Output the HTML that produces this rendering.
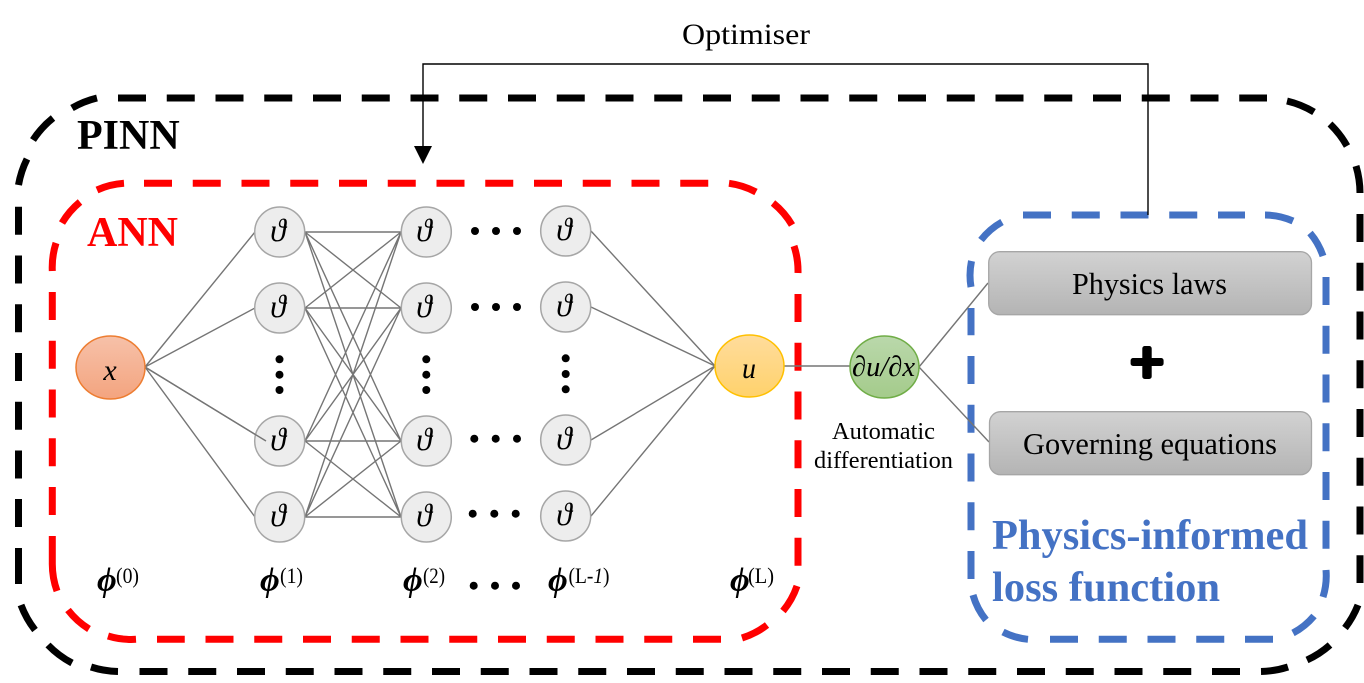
<!DOCTYPE html>
<html><head><meta charset="utf-8"><style>
html,body{margin:0;padding:0;background:#fff;width:1364px;height:683px;overflow:hidden}
svg{display:block}
text{font-family:"Liberation Serif","DejaVu Serif",serif;fill:#000}
</style></head><body>
<svg width="1364" height="683" viewBox="0 0 1364 683" xmlns="http://www.w3.org/2000/svg">
<defs>
<linearGradient id="gx" x1="0" y1="0" x2="0" y2="1"><stop offset="0" stop-color="#F6C1A9"/><stop offset="1" stop-color="#F4A47F"/></linearGradient>
<linearGradient id="gu" x1="0" y1="0" x2="0" y2="1"><stop offset="0" stop-color="#FFDC9C"/><stop offset="1" stop-color="#FFD26C"/></linearGradient>
<linearGradient id="gg" x1="0" y1="0" x2="0" y2="1"><stop offset="0" stop-color="#BAD8AB"/><stop offset="1" stop-color="#A4CB8B"/></linearGradient>
<linearGradient id="gb" x1="0" y1="0" x2="0" y2="1"><stop offset="0" stop-color="#D2D2D2"/><stop offset="1" stop-color="#B4B4B4"/></linearGradient>
</defs>

<!-- black dashed -->
<g fill="none" stroke="#000" stroke-width="7">
<path d="M118 98H1267M1360 214V583M1240 671.5H139M18.5 499V527" stroke-dasharray="28 20.75"/>
<path d="M18.5 206.7V499" stroke-dasharray="28 20.75"/>
<path d="M18.5 548V584"/>
<path d="M1287 101A95 95 0 0 1 1314 112M1330 124A95 95 0 0 1 1347 146M1356 166A95 95 0 0 1 1360 193"/>
<path d="M1358 605A95 95 0 0 1 1345 628M1330 645A95 95 0 0 1 1307 660M1288 667A95 95 0 0 1 1261 671.5"/>
<path d="M118 671.5A95 95 0 0 1 91 667M72 663A95 95 0 0 1 48 645M35 630A95 95 0 0 1 21 605"/>
<path d="M18.5 185A95 95 0 0 1 27 159M33 140A95 95 0 0 1 53 118M72 108A95 95 0 0 1 97 98"/>
</g>

<!-- red dashed -->
<g fill="none" stroke="#f00" stroke-width="7">
<path d="M144 183.3H709M798 294V566M721 639.3H157M52.3 292V535" stroke-dasharray="28 20.75"/>
<path d="M52.3 536V563"/>
<path d="M729 183.3A80 80 0 0 1 756 192M773 203A80 80 0 0 1 792 225M794 246A80 80 0 0 1 798 273"/>
<path d="M797 586A80 80 0 0 1 783 611M767 625A80 80 0 0 1 742 638"/>
<path d="M136 639.3A80 80 0 0 1 108 636M89 629A80 80 0 0 1 68 610M57 591A80 80 0 0 1 52.3 563"/>
<path d="M52.3 271A80 80 0 0 1 56 243M62 223A80 80 0 0 1 80 202M97 190A80 80 0 0 1 124 183.3"/>
</g>

<!-- blue dashed -->
<g fill="none" stroke="#4472C4" stroke-width="7">
<path d="M1023 215H1245M1326 277V549M1273 639.3H1050M971 579V308" stroke-dasharray="28 20.75"/>
<path d="M1265 215A70 70 0 0 1 1293 221M1310 233A70 70 0 0 1 1323 256"/>
<path d="M1326 570A70 70 0 0 1 1323 597M1314 616A70 70 0 0 1 1293 633"/>
<path d="M1028 639.3A70 70 0 0 1 1003 632M986 620A70 70 0 0 1 973 595"/>
<path d="M971 287A70 70 0 0 1 971.5 261M981 240A70 70 0 0 1 1002 222"/>
</g>

<!-- optimiser connector -->
<path d="M423 150V64H1148V215" fill="none" stroke="#000" stroke-width="1.4"/>
<polygon points="414,146 432,146 423,164" fill="#000"/>

<!-- connections -->
<path fill="none" stroke="#757575" stroke-width="1.4" d="
M145 367L255 232M145 367L255 308M145 367L266 441M145 367L255 517
M305 232L401 232M305 232L401 308M305 232L401 441M305 232L401 517
M305 308L401 232M305 308L401 308M305 308L401 441M305 308L401 517
M305 441L401 232M305 441L401 308M305 441L401 441M305 441L401 517
M305 517L401 232M305 517L401 308M305 517L401 441M305 517L401 517
M591 231L715 366M591 307L715 366M591 440L715 366M591 516L715 366
M784 366H850M919 367L988 283M919 367L989 442"/>

<!-- nodes -->
<g fill="#EDEDED" stroke="#A6A6A6" stroke-width="1.5">
<circle cx="279.7" cy="232" r="25"/><circle cx="279.7" cy="308" r="25"/><circle cx="279.7" cy="441" r="25"/><circle cx="279.7" cy="517" r="25"/>
<circle cx="426.3" cy="232" r="25"/><circle cx="426.3" cy="308" r="25"/><circle cx="426.3" cy="441" r="25"/><circle cx="426.3" cy="517" r="25"/>
<circle cx="565.7" cy="231" r="25"/><circle cx="565.7" cy="307" r="25"/><circle cx="565.7" cy="440" r="25"/><circle cx="565.7" cy="516" r="25"/>
</g>
<path d="M145 367L266 441" fill="none" stroke="#757575" stroke-width="1.4"/>
<g font-size="32" font-style="italic" text-anchor="middle">
<text x="278" y="241">ϑ</text><text x="278" y="317">ϑ</text><text x="278" y="450">ϑ</text><text x="278" y="526">ϑ</text>
<text x="424" y="241">ϑ</text><text x="424" y="317">ϑ</text><text x="424" y="450">ϑ</text><text x="424" y="526">ϑ</text>
<text x="564" y="240">ϑ</text><text x="564" y="316">ϑ</text><text x="564" y="449">ϑ</text><text x="564" y="525">ϑ</text>
</g>

<ellipse cx="110.5" cy="367.5" rx="34.5" ry="31.5" fill="url(#gx)" stroke="#ED7D31" stroke-width="1.5"/>
<ellipse cx="749.5" cy="366" rx="34.5" ry="31" fill="url(#gu)" stroke="#FFC000" stroke-width="1.5"/>
<ellipse cx="884.5" cy="367" rx="34.5" ry="31" fill="url(#gg)" stroke="#70AD47" stroke-width="1.5"/>
<text x="110" y="380" font-size="30" font-style="italic" text-anchor="middle">x</text>
<text x="742" y="378" font-size="30" font-style="italic" textLength="14" lengthAdjust="spacingAndGlyphs">u</text>
<text x="852" y="376" font-size="29" font-style="italic" textLength="63" lengthAdjust="spacingAndGlyphs">∂u/∂x</text>

<!-- dots -->
<g fill="#000">
<circle cx="279.5" cy="359.3" r="4"/><circle cx="279.5" cy="374.7" r="4"/><circle cx="279.5" cy="390" r="4"/>
<circle cx="426.3" cy="359.3" r="4"/><circle cx="426.3" cy="374.7" r="4"/><circle cx="426.3" cy="390" r="4"/>
<circle cx="565.7" cy="358.3" r="4"/><circle cx="565.7" cy="374" r="4"/><circle cx="565.7" cy="389.3" r="4"/>
<circle cx="475" cy="231" r="4"/><circle cx="496" cy="231" r="4"/><circle cx="517" cy="231" r="4"/>
<circle cx="475" cy="307" r="4"/><circle cx="496" cy="307" r="4"/><circle cx="517" cy="307" r="4"/>
<circle cx="474.3" cy="438.7" r="4"/><circle cx="495.7" cy="438.7" r="4"/><circle cx="517" cy="438.7" r="4"/>
<circle cx="472.7" cy="513.7" r="4"/><circle cx="494.3" cy="513.7" r="4"/><circle cx="515.7" cy="513.7" r="4"/>
<circle cx="473.7" cy="585.7" r="4"/><circle cx="495" cy="585.7" r="4"/><circle cx="516" cy="585.7" r="4"/>
</g>

<!-- phi labels -->
<g font-size="34" font-style="italic" font-weight="bold">
<text x="97" y="591">ϕ</text><text x="260" y="591">ϕ</text><text x="403" y="591">ϕ</text><text x="548" y="591">ϕ</text><text x="730" y="591">ϕ</text>
</g>
<g font-size="22">
<text x="116" y="583" textLength="23" lengthAdjust="spacingAndGlyphs">(0)</text>
<text x="280" y="583" textLength="23" lengthAdjust="spacingAndGlyphs">(1)</text>
<text x="423" y="583" textLength="22" lengthAdjust="spacingAndGlyphs">(2)</text>
<text x="568.5" y="583" textLength="41" lengthAdjust="spacingAndGlyphs">(L-<tspan font-style="italic">1</tspan>)</text>
<text x="748" y="583" textLength="26" lengthAdjust="spacingAndGlyphs">(L)</text>
</g>

<!-- boxes -->
<rect x="988.7" y="251.7" width="322.8" height="63" rx="11" fill="url(#gb)" stroke="#A6A6A6" stroke-width="1.3"/>
<rect x="989.5" y="411.7" width="322" height="63" rx="11" fill="url(#gb)" stroke="#A6A6A6" stroke-width="1.3"/>
<text x="1072" y="294" font-size="31" textLength="155" lengthAdjust="spacingAndGlyphs">Physics laws</text>
<text x="1023" y="454" font-size="31" textLength="254" lengthAdjust="spacingAndGlyphs">Governing equations</text>
<rect x="1130.6" y="358" width="33" height="8" rx="2.5" fill="#000"/>
<rect x="1142.3" y="346" width="9.4" height="33" rx="2.5" fill="#000"/>

<!-- labels -->
<text x="682" y="44" font-size="30" textLength="128" lengthAdjust="spacingAndGlyphs">Optimiser</text>
<text x="77" y="149" font-size="42" font-weight="bold">PINN</text>
<text x="87" y="246" font-size="42" font-weight="bold" style="fill:#f00">ANN</text>
<text x="832" y="439" font-size="24" textLength="103" lengthAdjust="spacingAndGlyphs">Automatic</text>
<text x="814" y="468" font-size="24" textLength="139" lengthAdjust="spacingAndGlyphs">differentiation</text>
<text x="992" y="549" font-size="42" font-weight="bold" textLength="316" lengthAdjust="spacingAndGlyphs" style="fill:#4472C4">Physics-informed</text>
<text x="992" y="601" font-size="42" font-weight="bold" textLength="228" lengthAdjust="spacingAndGlyphs" style="fill:#4472C4">loss function</text>
</svg>
</body></html>
